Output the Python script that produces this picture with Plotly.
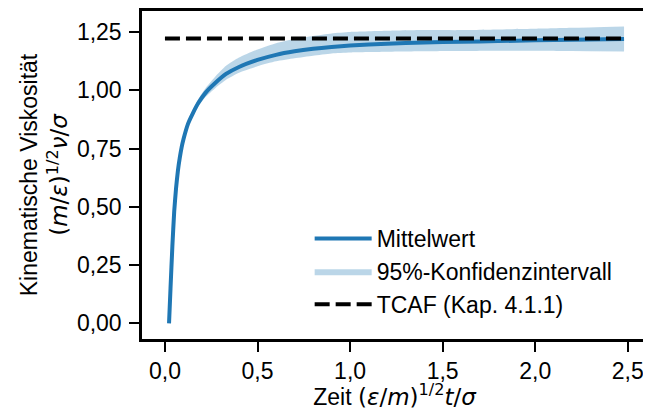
import plotly.graph_objects as go

# Data
zeit = [0.022, 0.03, 0.04, 0.05, 0.06, 0.07, 0.08, 0.09, 0.10, 0.125, 0.15, 0.18,
        0.22, 0.27, 0.33, 0.40, 0.50, 0.60, 0.70, 0.80, 0.90, 1.00, 1.20, 1.40,
        1.60, 1.80, 2.00, 2.20, 2.48]
mittelwert = [0.0, 0.15, 0.33, 0.48, 0.58, 0.655, 0.71, 0.755, 0.79, 0.857, 0.90, 0.945,
              0.99, 1.03, 1.07, 1.10, 1.13, 1.152, 1.167, 1.178, 1.186, 1.192, 1.200, 1.205,
              1.208, 1.211, 1.214, 1.217, 1.220]
ki_oben = [0.0, 0.152, 0.334, 0.485, 0.586, 0.663, 0.72, 0.766, 0.802, 0.870, 0.915, 0.962,
           1.01, 1.057, 1.105, 1.14, 1.175, 1.202, 1.220, 1.233, 1.244, 1.250, 1.255, 1.258,
           1.258, 1.261, 1.264, 1.268, 1.274]
ki_unten = [0.0, 0.148, 0.326, 0.475, 0.574, 0.647, 0.70, 0.744, 0.778, 0.845, 0.888, 0.930,
            0.972, 1.008, 1.045, 1.075, 1.103, 1.124, 1.137, 1.148, 1.158, 1.162, 1.165, 1.167,
            1.168, 1.169, 1.169, 1.168, 1.166]
tcaf_x = [0.0, 2.48]
tcaf_y = [1.222, 1.222]

x_ticks = [0.0, 0.5, 1.0, 1.5, 2.0, 2.5]
y_ticks = [0.0, 0.25, 0.5, 0.75, 1.0, 1.25]

blue = "#1f77b4"
band = "rgba(31,119,180,0.3)"
FONT = "Liberation Sans, Arial, sans-serif"
FS = 23


def m(s):
    return '<span style="font-family:DejaVu Sans">' + s + '</span>'


x_title = ("Zeit " + m("(<i>ε</i>/<i>m</i>)<sup>1/2</sup><i>t</i>/<i>σ</i>"))
y_title = ("Kinematische Viskosität<br>"
           + m("(<i>m</i>/<i>ε</i>)<sup>1/2</sup><i>ν</i>/<i>σ</i>"))

fig = go.Figure()
fig.add_trace(go.Scatter(x=zeit, y=ki_unten, mode="lines",
                         line=dict(width=0, color=band, shape="spline", smoothing=0.5),
                         showlegend=False, hoverinfo="skip"))
fig.add_trace(go.Scatter(x=zeit, y=ki_oben, mode="lines",
                         line=dict(width=0, color=band, shape="spline", smoothing=0.5),
                         fill="tonexty", fillcolor=band, name="95%-Konfidenzintervall",
                         legendrank=2))
fig.add_trace(go.Scatter(x=zeit, y=mittelwert, mode="lines",
                         line=dict(width=4, color=blue, shape="spline", smoothing=0.5),
                         name="Mittelwert", legendrank=1))
fig.add_trace(go.Scatter(x=tcaf_x, y=tcaf_y, mode="lines",
                         line=dict(width=4, color="black", dash="15px,6px"),
                         name="TCAF (Kap. 4.1.1)", legendrank=3))

axis_common = dict(
    showline=True, linecolor="black", linewidth=2.5, mirror=True,
    ticks="outside", ticklen=10, tickwidth=2, tickcolor="black",
    showgrid=False, zeroline=False, automargin=False,
    tickfont=dict(family=FONT, size=FS, color="black"),
)

fig.update_layout(
    width=643, height=402,
    margin=dict(l=134, r=4, t=3, b=71),
    plot_bgcolor="white", paper_bgcolor="white",
    separators=",.",
    font=dict(family=FONT, size=FS, color="black"),
    xaxis=dict(range=[-0.124, 2.604], tickvals=x_ticks, tickformat=".1f",
               title=dict(text=x_title, standoff=2, font=dict(family=FONT, size=FS)),
               **axis_common),
    yaxis=dict(range=[-0.067, 1.340], tickvals=y_ticks, tickformat=".2f",
               ticklabelstandoff=3,
               title=dict(text=y_title, standoff=3, font=dict(family=FONT, size=FS)),
               **axis_common),
    legend=dict(x=0.332, y=0.372, xanchor="left", yanchor="top",
                bgcolor="rgba(0,0,0,0)", borderwidth=0, traceorder="normal",
                font=dict(family=FONT, size=FS), tracegroupgap=0, itemwidth=57),
    showlegend=True,
)

fig.write_html("out.html")
